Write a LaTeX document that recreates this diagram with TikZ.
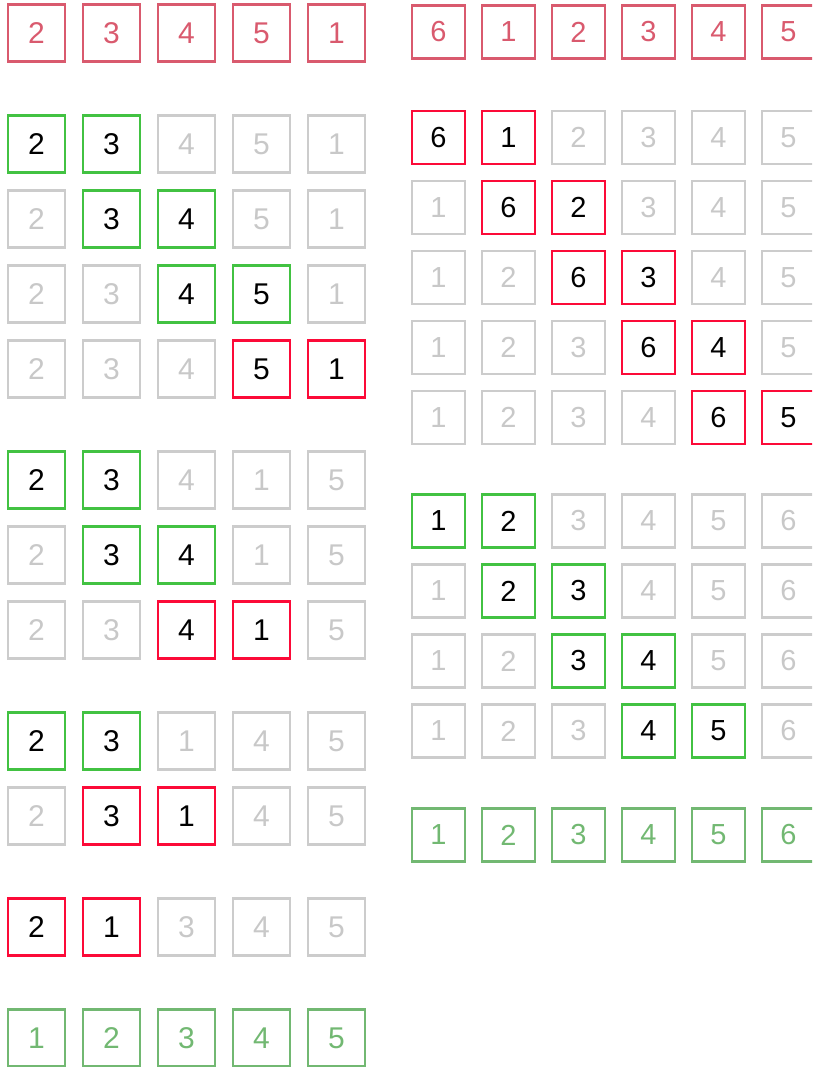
\documentclass[tikz,border=0pt]{standalone}
\usepackage{fontspec}
\setmainfont{Liberation Sans}
\definecolor{topred}{RGB}{217,90,110}
\definecolor{actred}{RGB}{252,10,56}
\definecolor{actgreen}{RGB}{66,194,66}
\definecolor{cellgray}{RGB}{204,204,204}
\definecolor{txtgray}{RGB}{200,200,200}
\definecolor{fingreen}{RGB}{114,184,114}
\tikzset{
  cell/.style={draw, inner sep=0pt, line width=2.4pt, minimum size=\cellsize pt, font=\fontsize{\fsize}{\fsize}\selectfont},
  T/.style={cell, draw=topred, text=topred},
  R/.style={cell, draw=actred, text=black},
  G/.style={cell, draw=actgreen, text=black},
  g/.style={cell, draw=cellgray, text=txtgray},
  F/.style={cell, draw=fingreen, text=fingreen},
}
\newcommand{\cellsize}{57}
\newcommand{\fsize}{30}
% #1 name, #2 x of first centre, #3 pitch, #4 y, #5 list digit/style
\newcommand{\cellrow}[5]{%
  \foreach \dg/\st [count=\ii] in {#5} {
    \node[\st] (#1-\ii) at ({#2+(\ii-1)*#3}, #4) {\dg};
  }%
}
\begin{document}
\begin{tikzpicture}[x=1pt,y=-1pt]
\useasboundingbox (0,0) rectangle (812,1067);
\clip (0,0) rectangle (812,1067);
% ---------- left column ----------
\renewcommand{\cellsize}{57}\renewcommand{\fsize}{30}
\cellrow{LT}{36.5}{75}{33}{2/T,3/T,4/T,5/T,1/T}
\cellrow{La1}{36.5}{75}{144}{2/G,3/G,4/g,5/g,1/g}
\cellrow{La2}{36.5}{75}{219}{2/g,3/G,4/G,5/g,1/g}
\cellrow{La3}{36.5}{75}{294}{2/g,3/g,4/G,5/G,1/g}
\cellrow{La4}{36.5}{75}{369}{2/g,3/g,4/g,5/R,1/R}
\cellrow{Lb1}{36.5}{75}{480}{2/G,3/G,4/g,1/g,5/g}
\cellrow{Lb2}{36.5}{75}{555}{2/g,3/G,4/G,1/g,5/g}
\cellrow{Lb3}{36.5}{75}{630}{2/g,3/g,4/R,1/R,5/g}
\cellrow{Lc1}{36.5}{75}{741}{2/G,3/G,1/g,4/g,5/g}
\cellrow{Lc2}{36.5}{75}{816}{2/g,3/R,1/R,4/g,5/g}
\cellrow{Ld1}{36.5}{75}{927}{2/R,1/R,3/g,4/g,5/g}
\cellrow{LF}{36.5}{75}{1038}{1/F,2/F,3/F,4/F,5/F}
% ---------- right column ----------
\renewcommand{\cellsize}{53}\renewcommand{\fsize}{29}
\cellrow{RT}{438.5}{70}{32}{6/T,1/T,2/T,3/T,4/T,5/T}
\cellrow{Ra1}{438.5}{70}{137.5}{6/R,1/R,2/g,3/g,4/g,5/g}
\cellrow{Ra2}{438.5}{70}{207.5}{1/g,6/R,2/R,3/g,4/g,5/g}
\cellrow{Ra3}{438.5}{70}{277.5}{1/g,2/g,6/R,3/R,4/g,5/g}
\cellrow{Ra4}{438.5}{70}{347.5}{1/g,2/g,3/g,6/R,4/R,5/g}
\cellrow{Ra5}{438.5}{70}{417.5}{1/g,2/g,3/g,4/g,6/R,5/R}
\cellrow{Rb1}{438.5}{70}{521}{1/G,2/G,3/g,4/g,5/g,6/g}
\cellrow{Rb2}{438.5}{70}{591}{1/g,2/G,3/G,4/g,5/g,6/g}
\cellrow{Rb3}{438.5}{70}{661}{1/g,2/g,3/G,4/G,5/g,6/g}
\cellrow{Rb4}{438.5}{70}{731}{1/g,2/g,3/g,4/G,5/G,6/g}
\cellrow{RF}{438.5}{70}{835}{1/F,2/F,3/F,4/F,5/F,6/F}
\end{tikzpicture}
\end{document}
